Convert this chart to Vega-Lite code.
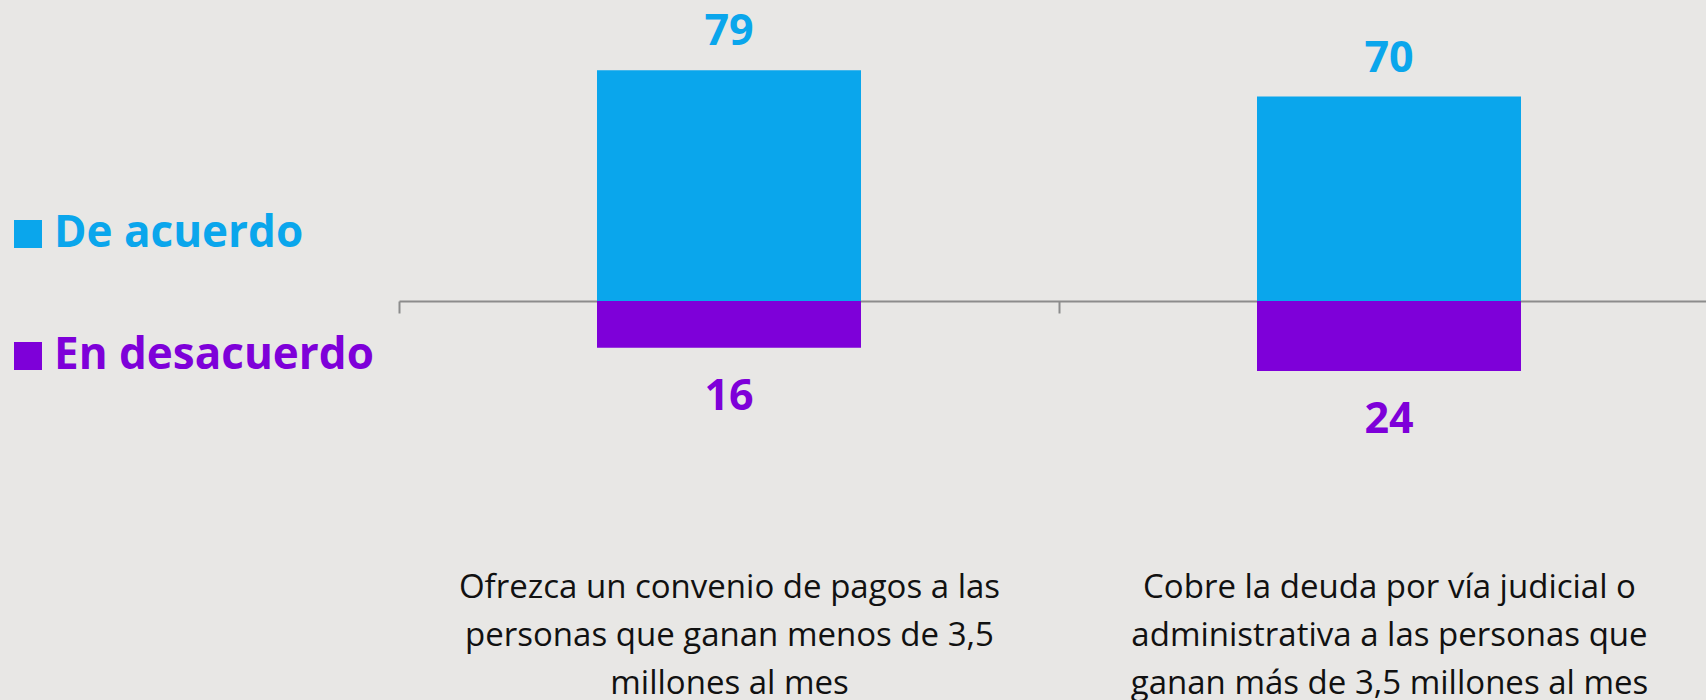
{
  "$schema": "https://vega.github.io/schema/vega-lite/v6.json",
  "autosize": "none",
  "padding": {"left": 399, "top": 9, "right": 0, "bottom": 399},
  "width": 1320,
  "height": 292,
  "background": "#E8E7E5",
  "config": {"view": {"stroke": null}},
  "data": {"values": [
    {"pregunta": "Ofrezca un convenio de pagos a las\npersonas que ganan menos de 3,5\nmillones al mes", "respuesta": "De acuerdo", "valor": 79},
    {"pregunta": "Ofrezca un convenio de pagos a las\npersonas que ganan menos de 3,5\nmillones al mes", "respuesta": "En desacuerdo", "valor": -16},
    {"pregunta": "Cobre la deuda por vía judicial o\nadministrativa a las personas que\nganan más de 3,5 millones al mes", "respuesta": "De acuerdo", "valor": 70},
    {"pregunta": "Cobre la deuda por vía judicial o\nadministrativa a las personas que\nganan más de 3,5 millones al mes", "respuesta": "En desacuerdo", "valor": -24}
  ]},
  "transform": [{"calculate": "abs(datum.valor)", "as": "etiqueta"}],
  "encoding": {
    "x": {
      "field": "pregunta", "type": "nominal", "sort": null,
      "scale": {"paddingInner": 0, "paddingOuter": 0},
      "axis": {
        "title": null, "labelAngle": 0,
        "labelExpr": "split(datum.label, '\\n')",
        "labelFont": "Open Sans", "labelFontSize": 33, "labelColor": "#111111",
        "labelLineHeight": 48, "labelBaseline": "alphabetic", "labelPadding": 284,
        "labelLimit": 0,
        "domainColor": "#8C8C8C", "domainWidth": 2,
        "tickBand": "extent", "tickColor": "#8C8C8C", "tickWidth": 2, "tickSize": 12,
        "grid": false
      }
    },
    "y": {
      "field": "valor", "type": "quantitative",
      "scale": {"domain": [0, 100], "nice": false},
      "axis": null
    }
  },
  "layer": [
    {
      "mark": {"type": "bar", "width": {"band": 0.4}},
      "encoding": {
        "color": {
          "field": "respuesta", "type": "nominal",
          "scale": {"domain": ["De acuerdo", "En desacuerdo"], "range": ["#0AA6EC", "#7E00D9"]},
          "legend": {
            "title": null, "orient": "none", "legendX": -393, "legendY": 203,
            "direction": "vertical",
            "symbolType": "square", "symbolSize": 784, "symbolStrokeWidth": 0, "symbolOpacity": 1,
            "labelFont": "Open Sans", "labelFontWeight": "bold", "labelFontSize": 44,
            "labelOffset": 4, "rowPadding": 78, "labelLimit": 0,
            "labelColor": {"expr": "datum.label == 'De acuerdo' ? '#0AA6EC' : '#7E00D9'"}
          }
        }
      }
    },
    {
      "transform": [{"filter": "datum.valor > 0"}],
      "mark": {"type": "text", "font": "Open Sans", "fontWeight": "bold", "fontSize": 43, "baseline": "middle", "dy": -38},
      "encoding": {
        "text": {"field": "etiqueta", "type": "quantitative"},
        "color": {"field": "respuesta", "type": "nominal", "legend": null}
      }
    },
    {
      "transform": [{"filter": "datum.valor < 0"}],
      "mark": {"type": "text", "font": "Open Sans", "fontWeight": "bold", "fontSize": 43, "baseline": "middle", "dy": 49},
      "encoding": {
        "text": {"field": "etiqueta", "type": "quantitative"},
        "color": {"field": "respuesta", "type": "nominal", "legend": null}
      }
    }
  ]
}
